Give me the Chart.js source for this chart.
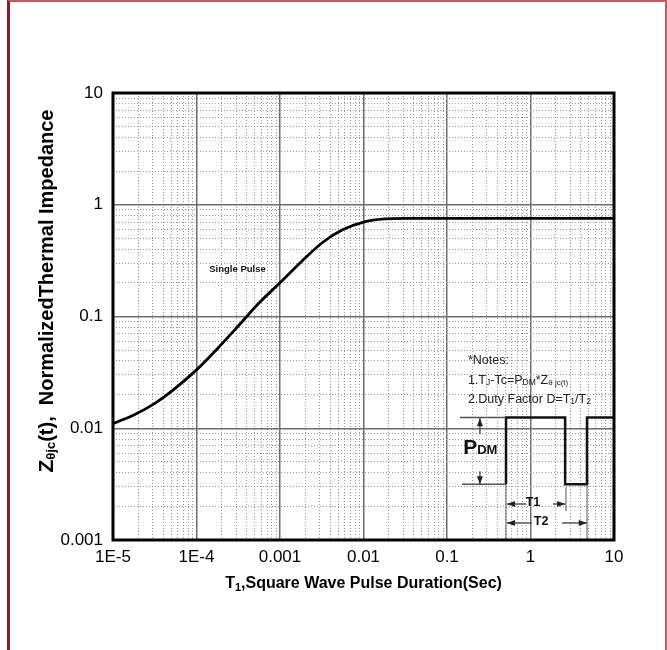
<!DOCTYPE html>
<html>
<head>
<meta charset="utf-8">
<script src="https://cdn.jsdelivr.net/npm/chart.js@4.4.1/dist/chart.umd.min.js"></script>
<style>
  html, body { margin: 0; padding: 0; background: #fff; }
  #frame { position: absolute; left: 7px; top: 0; width: 655px; height: 660px;
           border-left: 3px solid #8e1b26; border-top: 2px solid #b86068; border-right: 2px solid #b86068; }
  #graph { position: absolute; left: 0; top: 0; }
</style>
</head>
<body>
<div id="frame"></div>
<canvas id="graph" width="667" height="650"></canvas>
<script>
// single pulse curve
var pulseTime = [1e-5, 1.8e-5, 3.2e-5, 5.6e-5, 1e-4, 1.8e-4, 3.2e-4, 5.6e-4, 1e-3, 1.8e-3, 3.2e-3, 5.6e-3, 1e-2, 1.8e-2, 3.2e-2, 10];
var impedance = [0.011, 0.0132, 0.0168, 0.0229, 0.0333, 0.052, 0.083, 0.132, 0.20, 0.309, 0.457, 0.596, 0.70, 0.746, 0.755, 0.755];

// the square wave sketch of the notes
var waveTime = [0.509, 0.509, 2.6, 2.6, 4.75, 4.75, 10];
var waveLevel = [0.00316, 0.0125, 0.0125, 0.00316, 0.00316, 0.0125, 0.0125];

var xTickLabels = ['1E-5', '1E-4', '0.001', '0.01', '0.1', '1', '10'];
var yTickLabels = ['0.001', '0.01', '0.1', '1', '10'];

var FONT = "'Liberation Sans', Arial, sans-serif";

function logTicks(minExp, maxExp) {
  var t = [];
  for (var e = minExp; e < maxExp; e++) {
    for (var m = 1; m < 10; m++) {
      var v = Number((m * Math.pow(10, e)).toPrecision(3));
      t.push({ value: v, major: m === 1 });
    }
  }
  t.push({ value: Math.pow(10, maxExp), major: true });
  return t;
}

function majorLabel(value, labels, minExp) {
  var e = Math.log10(value);
  var r = Math.round(e);
  if (Math.abs(e - r) > 1e-6) return '';
  return labels[r - minExp];
}

function gridOpts() {
  return {
    drawTicks: false,
    color: function (c) { return c.tick && c.tick.major ? '#6e6e6e' : '#9a9a9a'; },
    lineWidth: function (c) { return c.tick && c.tick.major ? 1.5 : 1; }
  };
}
function borderOpts() {
  return {
    display: false,
    dash: function (c) { return c.tick && !c.tick.major ? [1, 2] : []; }
  };
}

// text with sub/normal parts: [text, size, bold, dy]
function drawParts(ctx, parts, x, y, align) {
  var total = 0;
  parts.forEach(function (p) {
    ctx.font = (p[2] ? 'bold ' : '') + p[1] + 'px ' + FONT;
    p.w = ctx.measureText(p[0]).width;
    total += p.w;
  });
  var cx = align === 'center' ? x - total / 2 : x;
  parts.forEach(function (p) {
    ctx.font = (p[2] ? 'bold ' : '') + p[1] + 'px ' + FONT;
    ctx.fillText(p[0], cx, y + (p[3] || 0));
    cx += p.w;
  });
}

function arrowHead(ctx, x, y, dir) {
  // dir: where the tip points
  ctx.beginPath();
  if (dir === 'l') { ctx.moveTo(x, y); ctx.lineTo(x + 8, y - 3); ctx.lineTo(x + 8, y + 3); }
  if (dir === 'r') { ctx.moveTo(x, y); ctx.lineTo(x - 8, y - 3); ctx.lineTo(x - 8, y + 3); }
  if (dir === 'u') { ctx.moveTo(x, y); ctx.lineTo(x - 3, y + 8); ctx.lineTo(x + 3, y + 8); }
  if (dir === 'd') { ctx.moveTo(x, y); ctx.lineTo(x - 3, y - 8); ctx.lineTo(x + 3, y - 8); }
  ctx.closePath();
  ctx.fill();
}

var decor = {
  id: 'decor',
  afterDatasetsDraw: function (chart) {
    var ctx = chart.ctx, xs = chart.scales.x, ys = chart.scales.y, a = chart.chartArea;
    function X(v) { return xs.getPixelForValue(v); }
    function Y(v) { return ys.getPixelForValue(v); }
    function line(x1, y1, x2, y2) { ctx.beginPath(); ctx.moveTo(x1, y1); ctx.lineTo(x2, y2); ctx.stroke(); }

    ctx.save();
    ctx.fillStyle = '#111';
    ctx.textBaseline = 'middle';
    drawParts(ctx, [['Single Pulse', 9.5, true]], X(3.1e-4), Y(0.263), 'center');

    ctx.fillStyle = '#222';
    drawParts(ctx, [['*Notes:', 12.5]], X(0.178), Y(0.0404), 'left');
    drawParts(ctx, [['1.T', 12.5], ['J', 8.5, false, 2], ['-Tc=P', 12.5], ['DM', 8.5, false, 2], ['*Z', 12.5], ['\u03b8 jc(t)', 8, false, 2]], X(0.178), Y(0.0268), 'left');
    drawParts(ctx, [['2.Duty Factor D=T', 12.5], ['1', 8.5, false, 2], ['/T', 12.5], ['2', 8.5, false, 2]], X(0.178), Y(0.0182), 'left');

    // thin helper lines
    ctx.strokeStyle = '#555';
    ctx.fillStyle = '#222';
    ctx.lineWidth = 1.5;
    line(X(0.143), Y(0.0125), X(0.509), Y(0.0125));
    line(X(0.151), Y(0.00316), X(0.509), Y(0.00316));
    ctx.lineWidth = 1;
    line(X(0.509), Y(0.00316), X(0.509), a.bottom);
    line(X(4.75), Y(0.00316), X(4.75), a.bottom);
    line(X(2.66), Y(0.00297), X(2.66), Y(0.00182));

    // P_DM arrows
    ctx.lineWidth = 1.5;
    line(X(0.248), Y(0.0123), X(0.248), Y(0.00884));
    arrowHead(ctx, X(0.248), Y(0.0123), 'u');
    line(X(0.248), Y(0.00413), X(0.248), Y(0.00316));
    arrowHead(ctx, X(0.248), Y(0.00316), 'd');

    // T1 / T2 arrows
    line(X(0.523), Y(0.0021), X(0.883), Y(0.0021));
    arrowHead(ctx, X(0.523), Y(0.0021), 'l');
    line(X(1.86), Y(0.0021), X(2.6), Y(0.0021));
    arrowHead(ctx, X(2.6), Y(0.0021), 'r');
    line(X(0.523), Y(0.00142), X(1.04), Y(0.00142));
    arrowHead(ctx, X(0.523), Y(0.00142), 'l');
    line(X(2.38), Y(0.00142), X(4.72), Y(0.00142));
    arrowHead(ctx, X(4.72), Y(0.00142), 'r');

    ctx.fillStyle = '#111';
    ctx.textBaseline = 'alphabetic';
    drawParts(ctx, [['P', 21, true], ['DM', 13, true]], X(0.156), Y(0.00586), 'left');
    ctx.textBaseline = 'middle';
    drawParts(ctx, [['T1', 12.5, true]], X(1.07), Y(0.00218), 'center');
    drawParts(ctx, [['T2', 12.5, true]], X(1.34), Y(0.00145), 'center');
    ctx.restore();
  },
  afterDraw: function (chart) {
    var ctx = chart.ctx, a = chart.chartArea;
    ctx.save();
    ctx.strokeStyle = '#000';
    ctx.lineWidth = 3;
    ctx.strokeRect(a.left, a.top, a.right - a.left, a.bottom - a.top);

    ctx.fillStyle = '#000';
    ctx.textBaseline = 'alphabetic';
    drawParts(ctx, [['T', 16, true], ['1', 11, true, 3], [',Square Wave Pulse Duration(Sec)', 16, true]], (a.left + a.right) / 2, 588, 'center');

    ctx.translate(47, 291);
    ctx.rotate(-Math.PI / 2);
    ctx.textBaseline = 'middle';
    drawParts(ctx, [['Z', 21, true], ['\u03b8jc', 13, true, 4], ['(t),  NormalizedThermal Impedance', 20, true]], 0, 0, 'center');
    ctx.restore();
  }
};

var curve = pulseTime.map(function (t, i) { return { x: t, y: impedance[i] }; });
var wave = waveTime.map(function (t, i) { return { x: t, y: waveLevel[i] }; });

new Chart(document.getElementById('graph').getContext('2d'), {
  type: 'line',
  data: {
    datasets: [{
      label: 'Single Pulse',
      data: curve,
      borderColor: '#000',
      borderWidth: 2.8,
      pointRadius: 0,
      cubicInterpolationMode: 'monotone',
      fill: false
    }, {
      label: 'wave',
      data: wave,
      borderColor: '#111',
      borderWidth: 2.5,
      pointRadius: 0,
      tension: 0,
      fill: false
    }]
  },
  options: {
    responsive: false,
    animation: false,
    devicePixelRatio: 1,
    layout: { padding: { top: 93, right: 53, left: 0, bottom: 0 } },
    plugins: { legend: { display: false }, tooltip: { enabled: false } },
    scales: {
      x: {
        type: 'logarithmic',
        min: 1e-5, max: 10,
        afterBuildTicks: function (s) { s.ticks = logTicks(-5, 1); },
        afterFit: function (s) { s.height = 110; },
        grid: gridOpts(),
        border: borderOpts(),
        ticks: {
          autoSkip: false, maxRotation: 0, padding: 7,
          color: '#000', font: { family: FONT, size: 17 },
          callback: function (v) { return majorLabel(v, xTickLabels, -5); }
        }
      },
      y: {
        type: 'logarithmic',
        min: 0.001, max: 10,
        afterBuildTicks: function (s) { s.ticks = logTicks(-3, 1); },
        afterFit: function (s) { s.width = 113; },
        grid: gridOpts(),
        border: borderOpts(),
        ticks: {
          autoSkip: false, padding: 10,
          color: '#000', font: { family: FONT, size: 17 },
          callback: function (v) { return majorLabel(v, yTickLabels, -3); }
        }
      }
    }
  },
  plugins: [decor]
});
</script>
</body>
</html>
